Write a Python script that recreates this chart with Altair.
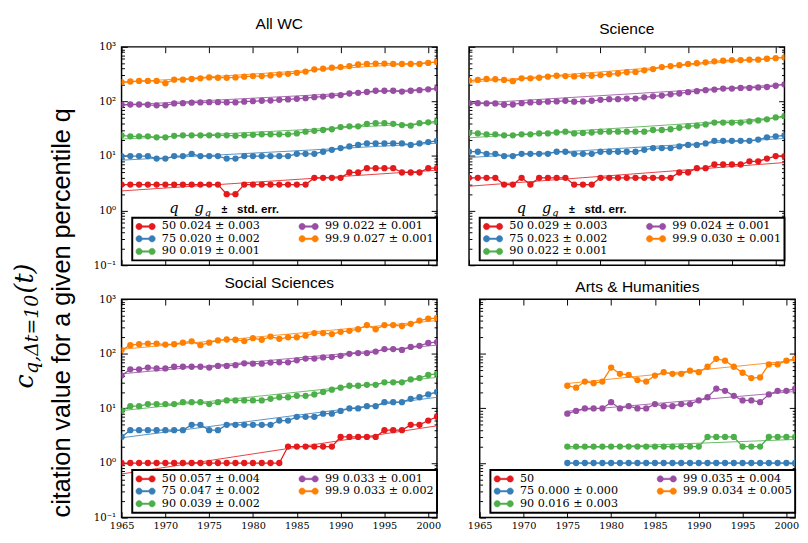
import altair as alt
import pandas as pd

SERIF = "DejaVu Serif"
SANS = "Liberation Sans"

YEARS = list(range(1965, 2002))
YEARS_AH = list(range(1975, 2002))
COLORS = ["#e41a1c", "#377eb8", "#4daf4a", "#984ea3", "#ff7f00"]

# ---------------- All WC ----------------
ALL_LABELS = ["50 0.024 \u00b1 0.003", "75 0.020 \u00b1 0.002", "90 0.019 \u00b1 0.001",
              "99 0.022 \u00b1 0.001", "99.9 0.027 \u00b1 0.001"]
ALL_50 = [3, 3, 3, 3, 3, 3, 3, 3, 3, 3, 3, 3, 2, 2, 3, 3, 3, 3, 3, 3, 3, 3, 4, 4, 4, 4, 5, 5, 6, 6, 6, 6, 5, 5, 5, 6, 6]
ALL_75 = [10, 10, 10, 10, 9, 9, 10, 10, 11, 10, 10, 10, 9, 9, 10, 10, 10, 10, 10, 10, 11, 11, 11, 12, 13, 14, 15, 16, 17, 17, 17, 17, 17, 16, 17, 18, 19]
ALL_90 = [24, 23, 23, 23, 22, 22, 23.5, 24, 24, 24, 24, 24, 24, 23.5, 24, 24.5, 25, 25, 25, 25, 26, 28, 29, 30, 31, 34, 35, 35, 39, 40, 40, 39, 37, 36, 40, 41.5, 43]
ALL_99 = [87, 88, 88, 87, 85, 85, 92, 93, 95, 96, 97, 97, 96, 96, 99, 101, 103, 104, 107, 109, 112, 115, 120, 123, 128, 131, 140, 144, 149, 157, 157, 157, 152, 157, 161, 167, 172]
ALL_999 = [225, 232, 238, 238, 238, 216, 251, 251, 258, 265, 276, 272, 272, 276, 284, 292, 292, 300, 312, 321, 334, 352, 387, 398, 415, 426, 444, 475, 488, 494, 494, 488, 488, 488, 488, 508, 529]
ALL_FIT_START = [2.3, 8.4, 20.5, 86, 222]
ALL_FIT_END = [5.5, 17.2, 40.6, 172, 525]

# ---------------- Science ----------------
SCI_LABELS = ["50 0.029 \u00b1 0.003", "75 0.023 \u00b1 0.002", "90 0.022 \u00b1 0.001",
              "99 0.024 \u00b1 0.001", "99.9 0.030 \u00b1 0.001"]
SCI_50 = [4, 4, 4, 4, 3, 3, 4, 3, 4, 4, 4, 4, 3, 3, 3, 4, 4, 4, 4, 4, 4, 4, 4, 4, 5, 5, 6, 6, 7, 7, 7, 7, 8, 8, 9, 10, 10]
SCI_75 = [12, 12, 11, 11, 10, 10, 11, 11, 11, 11, 12, 12, 11, 11, 11, 12, 12, 12, 12, 12, 13, 14, 14, 14, 15, 16, 16, 17, 19, 19, 19, 19, 19, 20, 22, 23, 24]
SCI_90 = [26.5, 26, 25, 25, 24, 24, 25, 25, 26, 26, 27, 28, 26, 26.5, 27, 28, 28, 28, 28, 28, 28, 30, 30, 31, 33, 35, 36, 38, 41, 41, 41, 41, 43, 45, 47, 51, 54]
SCI_99 = [93, 93, 92, 92, 87, 88, 93, 96, 97, 99, 100, 103, 99, 100, 103, 107, 110, 110, 113, 113, 119, 124, 128, 135, 140, 148, 154, 161, 165, 172, 172, 177, 177, 181, 184, 194, 205]
SCI_999 = [241, 248, 258, 255, 248, 235, 265, 265, 272, 284, 296, 292, 288, 296, 296, 304, 316, 325, 343, 348, 372, 392, 426, 444, 462, 488, 501, 522, 543, 558, 574, 574, 582, 582, 606, 622, 640]
SCI_FIT_START = [2.8, 9.4, 21.6, 91, 225]
SCI_FIT_END = [7.6, 21, 51, 205, 640]

# ---------------- Social Sciences ----------------
SOC_LABELS = ["50 0.057 \u00b1 0.004", "75 0.047 \u00b1 0.002", "90 0.039 \u00b1 0.002",
              "99 0.033 \u00b1 0.001", "99.9 0.033 \u00b1 0.002"]
SOC_50 = [1, 1, 1, 1, 1, 1, 1, 1, 1, 1, 1, 1, 1, 1, 1, 1, 1, 1, 1, 2, 2, 2, 2, 2, 2, 3, 3, 3, 3, 3, 4, 4, 4, 5, 5, 6, 7]
SOC_75 = [3, 4, 4, 4, 4, 4, 4, 4, 5, 5, 4, 4, 5, 5, 5, 5, 5, 5, 6, 6, 7, 7, 7, 8, 8, 9, 10, 10, 11, 11, 13, 13, 13, 15, 16, 18, 20]
SOC_90 = [9, 11, 11, 12, 12, 12, 12, 13, 13, 13, 12, 13, 14, 14, 14, 14, 14, 15, 16, 16, 17, 17, 18, 20, 22, 24, 26, 26, 27, 27, 30, 30, 30, 34, 36, 41, 43]
SOC_99 = [40, 52, 52, 56, 54, 54, 58, 58, 58, 58, 56, 60, 60, 62, 67, 66, 66, 69, 70, 70, 76, 82, 82, 86, 87, 92, 100, 103, 103, 110, 122, 122, 118, 134, 140, 158, 164]
SOC_999 = [117, 144, 150, 154, 154, 148, 150, 160, 169, 144, 160, 176, 183, 181, 171, 193, 181, 207, 188, 201, 201, 215, 240, 240, 230, 253, 264, 282, 336, 282, 336, 336, 323, 355, 406, 440, 452]
SOC_FIT_START = [0.63, 2.9, 9.1, 43, 121]
SOC_FIT_END = [4.8, 16, 37, 144, 406]

# ---------------- Arts & Humanities (1975-2001) ----------------
AH_LABELS = ["50", "75 0.000 \u00b1 0.000", "90 0.016 \u00b1 0.003",
             "99 0.035 \u00b1 0.004", "99.9 0.034 \u00b1 0.005"]
AH_50 = []
AH_75 = [1, 1, 1, 1, 1, 1, 1, 1, 1, 1, 1, 1, 1, 1, 1, 1, 1, 1, 1, 1, 1, 1, 1, 1, 1, 1, 1]
AH_90 = [2, 2, 2, 2, 2, 2, 2, 2, 2, 2, 2, 2, 2, 2, 2, 2, 3, 3, 3, 3, 2, 2, 2, 3, 3, 3, 3]
AH_99 = [8, 9, 10, 10, 10, 13, 10, 11, 10, 10, 12, 11, 11, 12, 12, 14, 16, 23, 21, 17, 14, 14, 13, 18, 21, 21, 23]
AH_999 = [26, 24, 31, 29, 31, 56, 43, 41, 33, 31, 40, 46, 43, 43, 49, 46, 58, 81, 75, 58, 45, 36, 37, 64, 64, 75, 81]
AH_FIT_START = [None, 1, 1.86, 8.9, 28.6]
AH_FIT_END = [None, 1, 2.7, 20.4, 76]

X_TICKS = [1965, 1970, 1975, 1980, 1985, 1990, 1995, 2000]
Y_TICKS = [0.1, 1, 10, 100, 1000]
Y_MINOR = [m * d for d in (0.1, 1, 10, 100) for m in range(2, 10)]

Y_TITLE = "citation value for a given percentile q"

# legend glyph: two dots joined by a short line (drawn at symbolSize 100 -> scale 5)
LEG_SYMBOL = ("M-2,0A0.66,0.66,0,1,0,-0.68,0A0.66,0.66,0,1,0,-2,0Z"
              "M0.68,0A0.66,0.66,0,1,0,2,0A0.66,0.66,0,1,0,0.68,0Z"
              "M-0.68,-0.15L0.68,-0.15L0.68,0.15L-0.68,0.15Z")

LABEL_EXPR = ("datum.value >= 500 ? '10\u00b3' : datum.value >= 50 ? '10\u00b2' : "
              "datum.value >= 5 ? '10\u00b9' : datum.value >= 0.5 ? '10\u2070' : '10\u207b\u00b9'")

PW = 325        # panel plot width
PH_TOP = 225    # top-row plot height
PH_BOT = 225    # bottom-row plot height


def build_df(years, series, labels):
    rows = []
    for lab, vals in zip(labels, series):
        for yr, v in zip(years, vals):
            rows.append({"s": lab, "year": yr, "v": v})
    return pd.DataFrame(rows)


def build_fit(y0, y1, starts, ends, labels):
    rows = []
    for lab, a, b in zip(labels, starts, ends):
        if a is None:
            continue
        rows.append({"s": lab, "year": y0, "v": a})
        rows.append({"s": lab, "year": y1, "v": b})
    return pd.DataFrame(rows)


def tick_axis(orient, offset, values, size):
    return alt.Axis(orient=orient, offset=offset, values=values, tickSize=size,
                    labels=False, domain=False, grid=False, ticks=True,
                    tickColor="black", tickWidth=1, title=None,
                    minExtent=0, maxExtent=0)


def panel(name, years, series, labels, fit_years, fit_start, fit_end,
          left_col, bottom_row, W, H):
    df = build_df(years, series, labels)
    fit = build_fit(fit_years[0], fit_years[1], fit_start, fit_end, labels)
    leg_y = H - 49
    leg = alt.Legend(title=None, orient="none", legendX=11, legendY=leg_y, columns=2,
                     columnPadding=38, rowPadding=0, labelFont=SERIF, labelFontSize=11.5,
                     labelColor="black", labelOffset=11, symbolOffset=5,
                     symbolType=LEG_SYMBOL, symbolSize=100, symbolStrokeWidth=0.5,
                     symbolOpacity=1, strokeColor="black", fillColor="white",
                     padding=3, labelLimit=0)
    color = alt.Color("s:N", scale=alt.Scale(domain=labels, range=COLORS), legend=leg)
    xs = alt.Scale(domain=[1965, 2001], nice=False, zero=False)
    ys = alt.Scale(type="log", domain=[0.1, 1000], nice=False)

    if bottom_row:
        x_main = alt.Axis(orient="bottom", values=X_TICKS, format="d", labels=True,
                          ticks=False, domain=False, grid=False, title=None,
                          labelFont=SERIF, labelFontSize=10, labelColor="black",
                          labelPadding=3, labelFlush=False, labelOverlap=False,
                          minExtent=0)
    else:
        x_main = None
    if left_col:
        y_main = alt.Axis(orient="left", values=Y_TICKS, labelExpr=LABEL_EXPR, labels=True,
                          ticks=False, domain=False, grid=False, title=None,
                          labelFont=SERIF, labelFontSize=10.5, labelColor="black",
                          labelPadding=6, labelFlush=False, labelOverlap=False,
                          minExtent=0)
    else:
        y_main = None

    base = alt.Chart(df)
    lines = base.mark_line(strokeWidth=1.3, clip=True).encode(
        x=alt.X("year:Q", scale=xs, axis=x_main),
        y=alt.Y("v:Q", scale=ys, axis=y_main),
        color=color,
    )
    points = base.mark_point(filled=True, size=42, opacity=1, clip=True).encode(
        x=alt.X("year:Q", scale=xs, axis=tick_axis("top", -H, X_TICKS, 6)),
        y=alt.Y("v:Q", scale=ys, axis=tick_axis("right", -W, Y_TICKS, 6)),
        color=color,
    )
    fits = alt.Chart(fit).mark_line(strokeWidth=1, opacity=0.85, clip=True).encode(
        x=alt.X("year:Q", scale=xs, axis=tick_axis("bottom", -H, X_TICKS, 6)),
        y=alt.Y("v:Q", scale=ys, axis=tick_axis("right", -W, Y_MINOR, 3)),
        color=color,
    )
    ghost1 = base.mark_point(opacity=0).encode(
        x=alt.X("year:Q", scale=xs, axis=None),
        y=alt.Y("v:Q", scale=ys, axis=tick_axis("left", -W, Y_TICKS, 6)),
    )
    ghost2 = base.mark_point(opacity=0).encode(
        x=alt.X("year:Q", scale=xs, axis=None),
        y=alt.Y("v:Q", scale=ys, axis=tick_axis("left", -W, Y_MINOR, 3)),
    )
    layers = [lines, points, fits, ghost1, ghost2]

    if not bottom_row:
        one = alt.Chart(pd.DataFrame({"k": [0]}))
        hy = leg_y - 5
        layers += [
            one.mark_text(font=SERIF, fontStyle="italic", fontSize=15, align="center",
                          baseline="alphabetic", color="black").encode(
                x=alt.value(54), y=alt.value(hy), text=alt.value("q")),
            one.mark_text(font=SERIF, fontStyle="italic", fontSize=15, align="center",
                          baseline="alphabetic", color="black").encode(
                x=alt.value(80), y=alt.value(hy), text=alt.value("g")),
            one.mark_text(font=SERIF, fontStyle="italic", fontSize=10, align="center",
                          baseline="alphabetic", color="black").encode(
                x=alt.value(89), y=alt.value(hy + 3), text=alt.value("q")),
            one.mark_text(font=SANS, fontWeight="bold", fontSize=11, align="center",
                          baseline="alphabetic", color="black").encode(
                x=alt.value(106), y=alt.value(hy), text=alt.value("\u00b1")),
            one.mark_text(font=SANS, fontWeight="bold", fontSize=12, align="left",
                          baseline="alphabetic", color="black").encode(
                x=alt.value(119), y=alt.value(hy), text=alt.value("std. err.")),
        ]

    title = alt.TitleParams(text=name, font=SANS, fontSize=16, fontWeight="normal",
                            color="black", anchor="middle",
                            offset=4 if bottom_row else 10)
    return alt.layer(*layers).resolve_axis(x="independent", y="independent").properties(
        width=W, height=H, title=title,
        view=alt.ViewBackground(stroke="black", strokeWidth=1.5),
    )


A = panel("All WC", YEARS, [ALL_50, ALL_75, ALL_90, ALL_99, ALL_999], ALL_LABELS,
          (1965, 2001), ALL_FIT_START, ALL_FIT_END, True, False, PW, PH_TOP)
B = panel("Science", YEARS, [SCI_50, SCI_75, SCI_90, SCI_99, SCI_999], SCI_LABELS,
          (1965, 2001), SCI_FIT_START, SCI_FIT_END, False, False, PW, PH_TOP)
C = panel("Social Sciences", YEARS, [SOC_50, SOC_75, SOC_90, SOC_99, SOC_999], SOC_LABELS,
          (1965, 2001), SOC_FIT_START, SOC_FIT_END, True, True, PW, PH_BOT)
D = panel("Arts & Humanities", YEARS_AH, [AH_50, AH_75, AH_90, AH_99, AH_999], AH_LABELS,
          (1975, 2001), AH_FIT_START, AH_FIT_END, False, True, PW, PH_BOT)

side_base = alt.Chart(pd.DataFrame({"k": [0]}))
side = alt.layer(
    side_base.mark_text(angle=270, font=SANS, fontSize=26, align="center",
                        baseline="alphabetic", color="black").encode(
        x=alt.value(64), y=alt.value(274), text=alt.value(Y_TITLE)),
    side_base.mark_text(angle=270, font=SERIF, fontStyle="italic", fontSize=26, align="left",
                        baseline="alphabetic", color="black").encode(
        x=alt.value(26), y=alt.value(352), text=alt.value("c")),
    side_base.mark_text(angle=270, font=SERIF, fontStyle="italic", fontSize=19.5, align="left",
                        baseline="alphabetic", color="black").encode(
        x=alt.value(31), y=alt.value(337), text=alt.value("q,\u0394t=10")),
    side_base.mark_text(angle=270, font=SERIF, fontStyle="italic", fontSize=26, align="left",
                        baseline="alphabetic", color="black").encode(
        x=alt.value(26), y=alt.value(254), text=alt.value("(t)")),
).properties(width=87, height=480, view=alt.ViewBackground(stroke=None))

top = alt.hconcat(A, B, spacing=25).resolve_scale(color="independent")
bottom = alt.hconcat(C, D, spacing=25).resolve_scale(color="independent")
grid = alt.vconcat(top, bottom, spacing=2).resolve_scale(color="independent")

chart = alt.hconcat(side, grid, spacing=0).resolve_scale(color="independent").properties(
    padding={"left": 0, "top": 0, "right": 0, "bottom": 0}
).configure_view(stroke=None).configure_legend(strokeWidth=2)

chart.save("out.html", embed_options={"renderer": "svg", "actions": False})
